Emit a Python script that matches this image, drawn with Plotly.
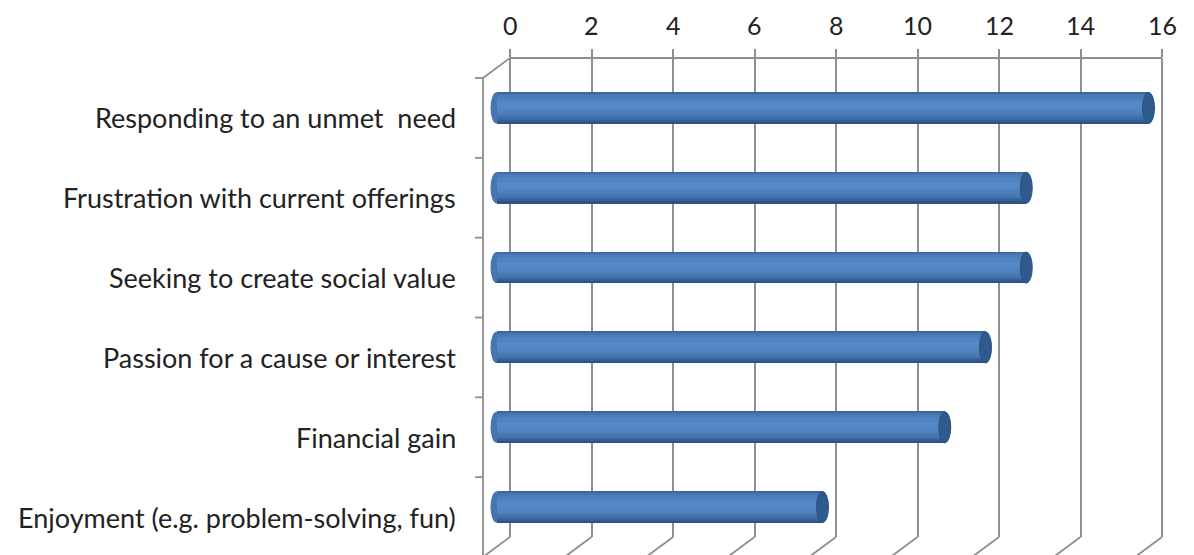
import plotly.graph_objects as go

# ---- data ----
categories = [
    "Responding to an unmet  need",
    "Frustration with current offerings",
    "Seeking to create social value",
    "Passion for a cause or interest",
    "Financial gain",
    "Enjoyment (e.g. problem-solving, fun)",
]
values = [16, 13, 13, 12, 11, 8]
tick_values = [0, 2, 4, 6, 8, 10, 12, 14, 16]
tick_labels = ["0", "2", "4", "6", "8", "10", "12", "14", "16"]

# ---- geometry (pixels, page has 8px body margin) ----
W, H = 1194, 555
ML, MT = 462, 50
plot_w, plot_h = 710, 479
MR = W - ML - plot_w
MB = H - MT - plot_h
zero_px = 502            # back wall zero (figure coords)
scale = 40.75            # px per unit
depth_dx, depth_dy = 27, 20   # perspective offset to front plane
bar_dx, bar_dy = depth_dx / 2, depth_dy / 2

x_start = -(zero_px - ML) / scale
x_end = x_start + plot_w / scale
n = len(categories)
band = plot_h / n

grid_color = "#8f8f8f"
text_color = "#222222"
fig = go.Figure()

# invisible trace to anchor the base axes
fig.add_trace(go.Scatter(x=[0, tick_values[-1]], y=[0, n - 1], mode="markers",
                         marker=dict(opacity=0), hoverinfo="skip", showlegend=False))

idx = list(range(n))
bar_w = 0.39
# vertical shading profile of the cylinder, top -> bottom
profile = [
    (0.04, "#3c679e"),
    (0.06, "#4674ae"),
    (0.10, "#4b7cba"),
    (0.12, "#5083c1"),
    (0.14, "#5588c7"),
    (0.12, "#5386c5"),
    (0.10, "#4e80be"),
    (0.08, "#4979b5"),
    (0.07, "#4372ac"),
    (0.06, "#3c69a1"),
    (0.05, "#356093"),
    (0.06, "#2c5385"),
]
tot = sum(p[0] for p in profile)
acc = 0.0
for frac, col in profile:
    h = frac / tot * bar_w
    off = -bar_w / 2 + acc
    acc += h
    fig.add_trace(go.Bar(
        x=values, y=idx, orientation="h", xaxis="x2", yaxis="y2",
        width=h + 0.004, offset=off,
        marker=dict(color=col, line=dict(width=0)),
        hoverinfo="skip", showlegend=False,
    ))

shapes = []
lw = 1.8
# top back line
shapes.append(dict(type="line", xref="x", yref="paper", x0=tick_values[0], x1=tick_values[-1],
                   y0=1, y1=1, line=dict(color=grid_color, width=lw), layer="below"))
ddx = depth_dx / scale
ddy = depth_dy / plot_h
# top-left diagonal
shapes.append(dict(type="line", xref="x", yref="paper", x0=0, x1=-ddx, y0=1, y1=1 - ddy,
                   line=dict(color=grid_color, width=lw), layer="below"))
# front vertical axis line
shapes.append(dict(type="line", xref="x", yref="paper", x0=-ddx, x1=-ddx, y0=1 - ddy, y1=-ddy - 0.01,
                   line=dict(color=grid_color, width=lw), layer="below"))
# front category ticks
for k in range(n + 1):
    yp = 1 - ddy - k / n
    shapes.append(dict(type="line", xref="x", yref="paper", x0=-ddx - 8 / scale, x1=-ddx,
                       y0=yp, y1=yp, line=dict(color=grid_color, width=lw), layer="below"))
# bottom diagonals
for t in tick_values:
    shapes.append(dict(type="line", xref="x", yref="paper", x0=t, x1=t - ddx, y0=0, y1=-ddy,
                       line=dict(color=grid_color, width=lw), layer="below"))

# bar end caps
cap_hw = 6 / scale
cap_hh = bar_w / 2
for i, v in enumerate(values):
    shapes.append(dict(type="circle", xref="x2", yref="y2", x0=-cap_hw, x1=cap_hw,
                       y0=i - cap_hh, y1=i + cap_hh, fillcolor="#4676b2",
                       line=dict(width=0), layer="below"))
    shapes.append(dict(type="circle", xref="x2", yref="y2", x0=v - cap_hw, x1=v + cap_hw,
                       y0=i - cap_hh, y1=i + cap_hh, fillcolor="#2f5a8c",
                       line=dict(color="#2a5283", width=1), layer="above"))

annotations = []
for i, c in enumerate(categories):
    annotations.append(dict(text=c, xref="paper", yref="y", x=0, y=i, xanchor="right",
                            yanchor="middle", xshift=-12, yshift=-depth_dy, showarrow=False,
                            font=dict(family="Lato", size=27, color=text_color)))
for t, lab in zip(tick_values, tick_labels):
    annotations.append(dict(text=lab, xref="x", yref="paper", x=t, y=1, xanchor="center",
                            yanchor="middle", yshift=33, showarrow=False,
                            font=dict(family="Lato", size=25, color=text_color)))

fig.update_layout(
    width=W, height=H,
    margin=dict(l=ML, r=MR, t=MT, b=MB, pad=0, autoexpand=False),
    paper_bgcolor="white", plot_bgcolor="white",
    barmode="overlay", bargap=0,
    showlegend=False,
    shapes=shapes, annotations=annotations,
    xaxis=dict(range=[x_start, x_end], side="top", tickvals=tick_values,
               showticklabels=False, automargin=False,
               showgrid=True, gridcolor=grid_color, gridwidth=lw, zeroline=False,
               showline=False, ticks="outside", ticklen=8, tickcolor=grid_color, tickwidth=lw,
               fixedrange=True),
    yaxis=dict(range=[n - 0.5, -0.5], visible=False, fixedrange=True, automargin=False),
    xaxis2=dict(range=[x_start + bar_dx / scale, x_end + bar_dx / scale], overlaying="x",
                visible=False, fixedrange=True),
    yaxis2=dict(range=[n - 0.5 - bar_dy / band, -0.5 - bar_dy / band], overlaying="y",
                visible=False, fixedrange=True),
)

fig.write_html("out.html")
